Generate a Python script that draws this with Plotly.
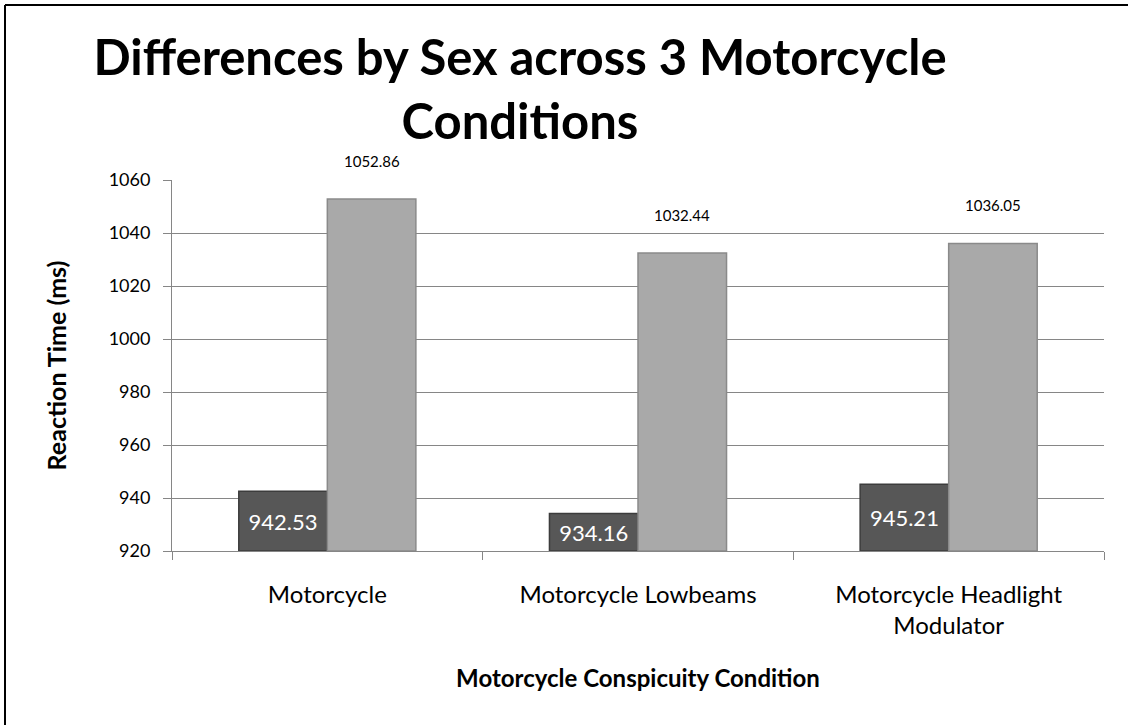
import plotly.graph_objects as go

categories = ["Motorcycle", "Motorcycle Lowbeams", "Motorcycle Headlight<br>Modulator"]
dark_values = [942.53, 934.16, 945.21]
light_values = [1052.86, 1032.44, 1036.05]
y_ticks = [920, 940, 960, 980, 1000, 1020, 1040, 1060]

AXIS_MIN = 920
FONT = "Lato, 'Open Sans', sans-serif"

fig = go.Figure()
fig.add_trace(go.Bar(
    x=categories,
    y=[v - AXIS_MIN for v in dark_values],
    base=AXIS_MIN,
    marker=dict(color="#575757", line=dict(color="#3c3c3c", width=1.5)),
    text=[f"{v:.2f}" for v in dark_values],
    textposition="inside",
    insidetextanchor="middle",
    textfont=dict(color="white", size=22, family=FONT),
    constraintext="none",
    hovertext=[f"{v:.2f}" for v in dark_values],
    hoverinfo="text",
    showlegend=False,
))
fig.add_trace(go.Bar(
    x=categories,
    y=[v - AXIS_MIN for v in light_values],
    base=AXIS_MIN,
    marker=dict(color="#a9a9a9", line=dict(color="#8a8a8a", width=1.5)),
    hovertext=[f"{v:.2f}" for v in light_values],
    hoverinfo="text",
    showlegend=False,
))

offset = (1 - 0.43) / 4
for i, v in enumerate(light_values):
    fig.add_annotation(
        x=i + offset, y=v, xref="x", yref="y",
        text=f"{v:.2f}", showarrow=False, yshift=38,
        font=dict(size=15, color="black", family=FONT),
    )

fig.update_layout(
    width=1128, height=725,
    margin=dict(l=172, r=24, t=180, b=174),
    paper_bgcolor="white", plot_bgcolor="white",
    barmode="group", bargap=0.43, bargroupgap=0,
    font=dict(family=FONT, color="black"),
    title=dict(
        text="<b>Differences by Sex across 3 Motorcycle<br>Conditions</b>",
        x=520 / 1128, xanchor="center", xref="container",
        y=1 - 75 / 725, yanchor="top", yref="container",
        font=dict(size=49, family=FONT, color="black"),
    ),
    xaxis=dict(
        type="category",
        showline=True, linecolor="#868686", linewidth=1,
        ticks="outside", tickson="boundaries", ticklen=8, tickcolor="#868686",
        tickfont=dict(size=24, family=FONT, color="black"),
        ticklabelstandoff=22,
        title=dict(text="<b>Motorcycle Conspicuity Condition</b>",
                   font=dict(size=24, family=FONT, color="black"), standoff=32),
        showgrid=False,
    ),
    yaxis=dict(
        range=[920, 1060], tickvals=y_ticks,
        showline=True, linecolor="#868686", linewidth=1,
        ticks="outside", ticklen=8, tickcolor="#868686",
        showgrid=True, gridcolor="#868686", gridwidth=1,
        tickfont=dict(size=18, family=FONT, color="black"),
        ticklabelstandoff=9,
        title=dict(text="<b>Reaction Time (ms)</b>",
                   font=dict(size=25, family=FONT, color="black"), standoff=34),
        zeroline=False,
    ),
)

# outer chart frame: only the left and top edges are visible in the reference
frame_left = (5 - 172) / 932
frame_top = 1 + (180 - 5) / 371
fig.add_shape(type="line", xref="paper", yref="paper",
              x0=frame_left, x1=frame_left, y0=-1.0, y1=frame_top,
              line=dict(color="black", width=2), layer="below")
fig.add_shape(type="line", xref="paper", yref="paper",
              x0=frame_left, x1=1.3, y0=frame_top, y1=frame_top,
              line=dict(color="black", width=2), layer="below")

fig.write_html("out.html", config={"displayModeBar": False},
               post_script="document.body.style.margin='0';")
